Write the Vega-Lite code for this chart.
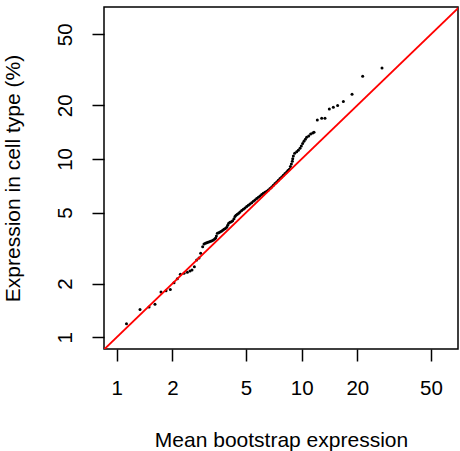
{
  "$schema": "https://vega.github.io/schema/vega-lite/v6.json",
  "autosize": {"type": "none"},
  "padding": {"left": 104, "top": 7, "right": 2, "bottom": 102},
  "width": 354,
  "height": 342,
  "background": "white",
  "config": {
    "view": {"stroke": "black", "strokeWidth": 1.5},
    "font": "Liberation Sans",
    "axis": {
      "grid": false,
      "domain": false,
      "ticks": true,
      "tickColor": "black",
      "tickWidth": 1.5,
      "tickSize": 12,
      "labelFont": "Liberation Sans",
      "labelFontSize": 20.5,
      "labelColor": "black",
      "labelPadding": 27,
      "labelBaseline": "middle",
      "labelAlign": "center",
      "labelFlush": false,
      "labelOverlap": false,
      "titleFont": "Liberation Sans",
      "titleFontSize": 21,
      "titleFontWeight": "normal",
      "titleColor": "black"
    }
  },
  "datasets": {
    "pts": [
      {"x": 1.13, "y": 1.19}, {"x": 1.337, "y": 1.43}, {"x": 1.496, "y": 1.48}, {"x": 1.611, "y": 1.531},
      {"x": 1.736, "y": 1.796}, {"x": 1.848, "y": 1.826}, {"x": 1.95, "y": 1.851}, {"x": 2.041, "y": 2.025},
      {"x": 2.128, "y": 2.133}, {"x": 2.209, "y": 2.256}, {"x": 2.312, "y": 2.285}, {"x": 2.41, "y": 2.315},
      {"x": 2.491, "y": 2.355}, {"x": 2.554, "y": 2.386}, {"x": 2.63, "y": 2.49}, {"x": 2.707, "y": 2.715},
      {"x": 2.786, "y": 2.786}, {"x": 2.845, "y": 2.958}, {"x": 2.917, "y": 3.224},
      {"x": 2.966, "y": 3.337}, {"x": 3.016, "y": 3.366}, {"x": 3.066, "y": 3.395}, {"x": 3.117, "y": 3.41},
      {"x": 3.169, "y": 3.439}, {"x": 3.222, "y": 3.454}, {"x": 3.276, "y": 3.484}, {"x": 3.331, "y": 3.514},
      {"x": 3.387, "y": 3.56}, {"x": 3.429, "y": 3.606}, {"x": 3.458, "y": 3.7}, {"x": 3.501, "y": 3.83},
      {"x": 3.56, "y": 3.863}, {"x": 3.619, "y": 3.896}, {"x": 3.68, "y": 3.93}, {"x": 3.741, "y": 3.981},
      {"x": 3.804, "y": 4.033}, {"x": 3.867, "y": 4.068}, {"x": 3.932, "y": 4.139}, {"x": 3.981, "y": 4.246},
      {"x": 4.031, "y": 4.357}, {"x": 4.099, "y": 4.414}, {"x": 4.168, "y": 4.452}, {"x": 4.236, "y": 4.51},
      {"x": 4.307, "y": 4.628}, {"x": 4.361, "y": 4.75}, {"x": 4.416, "y": 4.833}, {"x": 4.49, "y": 4.895},
      {"x": 4.565, "y": 4.959}, {"x": 4.642, "y": 5.046}, {"x": 4.739, "y": 5.133}, {"x": 4.838, "y": 5.223},
      {"x": 4.94, "y": 5.313}, {"x": 5.044, "y": 5.404}, {"x": 5.149, "y": 5.498}, {"x": 5.257, "y": 5.593},
      {"x": 5.367, "y": 5.69}, {"x": 5.48, "y": 5.789}, {"x": 5.595, "y": 5.89}, {"x": 5.712, "y": 5.992},
      {"x": 5.832, "y": 6.095}, {"x": 5.954, "y": 6.202}, {"x": 6.079, "y": 6.31}, {"x": 6.206, "y": 6.42},
      {"x": 6.337, "y": 6.503}, {"x": 6.469, "y": 6.588}, {"x": 6.605, "y": 6.702}, {"x": 6.743, "y": 6.818},
      {"x": 6.885, "y": 6.966}, {"x": 7.029, "y": 7.118}, {"x": 7.177, "y": 7.273}, {"x": 7.327, "y": 7.431},
      {"x": 7.481, "y": 7.593}, {"x": 7.638, "y": 7.759}, {"x": 7.798, "y": 7.928}, {"x": 7.962, "y": 8.1},
      {"x": 8.129, "y": 8.277}, {"x": 8.299, "y": 8.456}, {"x": 8.438, "y": 8.603}, {"x": 8.579, "y": 8.752},
      {"x": 8.687, "y": 9.057}, {"x": 8.796, "y": 9.376}, {"x": 8.906, "y": 9.703}, {"x": 8.943, "y": 10.04},
      {"x": 9.016, "y": 10.39}, {"x": 9.167, "y": 10.76}, {"x": 9.397, "y": 10.99}, {"x": 9.594, "y": 11.18},
      {"x": 9.795, "y": 11.48}, {"x": 9.959, "y": 11.83}, {"x": 10.12, "y": 12.19}, {"x": 10.29, "y": 12.56},
      {"x": 10.47, "y": 12.89}, {"x": 10.64, "y": 13.23}, {"x": 10.91, "y": 13.46}, {"x": 11.18, "y": 13.81},
      {"x": 11.47, "y": 13.99}, {"x": 11.66, "y": 14.11},
      {"x": 12.15, "y": 16.55}, {"x": 12.83, "y": 16.9}, {"x": 13.37, "y": 16.9}, {"x": 14.11, "y": 19.07},
      {"x": 14.83, "y": 19.49}, {"x": 15.65, "y": 19.91}, {"x": 16.8, "y": 20.97}, {"x": 18.72, "y": 23.05},
      {"x": 21.37, "y": 29.08}, {"x": 27.19, "y": 32.38}
    ],
    "diag": [{"x": 0.5, "y": 0.5}, {"x": 120, "y": 120}]
  },
  "layer": [
    {
      "data": {"name": "pts"},
      "mark": {"type": "circle", "size": 9, "color": "black", "opacity": 1},
      "encoding": {
        "x": {
          "field": "x", "type": "quantitative",
          "scale": {"type": "log", "domain": [0.854, 70], "nice": false, "zero": false},
          "axis": {"values": [1, 2, 5, 10, 20, 50], "title": "Mean bootstrap expression", "titlePadding": 31}
        },
        "y": {
          "field": "y", "type": "quantitative",
          "scale": {"type": "log", "domain": [0.86, 71.1], "nice": false, "zero": false},
          "axis": {"values": [1, 2, 5, 10, 20, 50], "title": "Expression in cell type (%)", "labelAngle": -90, "titlePadding": 32}
        }
      }
    },
    {
      "data": {"name": "diag"},
      "mark": {"type": "line", "color": "#ff0000", "strokeWidth": 1.8, "clip": true},
      "encoding": {
        "x": {"field": "x", "type": "quantitative"},
        "y": {"field": "y", "type": "quantitative"}
      }
    }
  ]
}
